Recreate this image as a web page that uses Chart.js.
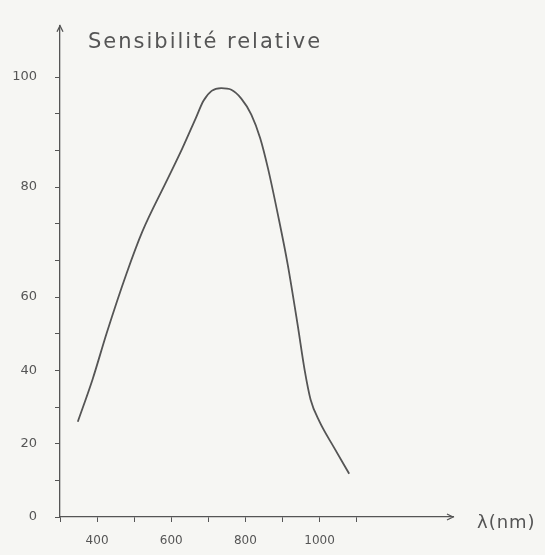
<!DOCTYPE html>
<html>
<head>
    <meta charset="utf-8">
    <title>Sensibilité relative</title>
    <script src="https://cdn.jsdelivr.net/npm/chart.js"></script>
    <style>
        body { margin: 0; background: #f6f6f3; }
        #wrap { width: 545px; height: 555px; }
    </style>
</head>
<body>
    <div id="wrap"><canvas id="sensChart"></canvas></div>

    <script>
        // curve: wavelength (nm) -> relative sensitivity (%)
        var wavelengths = [348, 388, 426, 479, 522, 586, 629, 666, 687, 709, 735, 762, 789, 816, 840, 861, 888, 914, 941, 960, 976, 1000, 1040, 1080];
        var sensitivity = [26.0, 37.6, 50.2, 64.2, 71.9, 80.9, 86.9, 92.5, 95.7, 97.5, 98.0, 97.7, 96.1, 93.2, 88.9, 83.4, 74.9, 66.0, 52.4, 40.0, 32.0, 26.0, 18.8, 11.8];

        var xTicks = [300, 400, 500, 600, 700, 800, 900, 1000, 1100];
        var xTickLabels = ['', '400', '', '600', '', '800', '', '1000', ''];

        // hand drawn y axis: 12 graduations, labels not evenly placed on them
        var yLabels = [0, 20, 40, 60, 80, 100];
        var yLabelGrads = [0, 2, 4, 6, 9, 12];

        function toGrad(v) {
            for (var i = 1; i < yLabels.length; i++) {
                if (v <= yLabels[i]) {
                    var t = (v - yLabels[i - 1]) / (yLabels[i] - yLabels[i - 1]);
                    return yLabelGrads[i - 1] + t * (yLabelGrads[i] - yLabelGrads[i - 1]);
                }
            }
            return yLabelGrads[yLabelGrads.length - 1];
        }

        var ink = '#555555';
        var font = "'DejaVu Sans', sans-serif";

        var extras = {
            id: 'extras',
            afterDraw: function(chart) {
                var ctx = chart.ctx, a = chart.chartArea;
                ctx.save();
                ctx.strokeStyle = ink;
                ctx.fillStyle = ink;
                ctx.lineWidth = 1.3;
                // arrow heads
                ctx.beginPath();
                ctx.moveTo(a.left - 3, a.top + 6); ctx.lineTo(a.left, a.top); ctx.lineTo(a.left + 3, a.top + 6);
                ctx.moveTo(a.right - 6, a.bottom - 3); ctx.lineTo(a.right, a.bottom); ctx.lineTo(a.right - 6, a.bottom + 3);
                ctx.stroke();
                ctx.textBaseline = 'middle';
                ctx.font = '21px ' + font;
                ctx.letterSpacing = '2px';
                ctx.fillText('Sensibilité relative', a.left + 28, a.top + 17);
                ctx.font = '18px ' + font;
                ctx.letterSpacing = '1px';
                ctx.fillText('λ(nm)', a.right + 24, a.bottom + 6);
                ctx.restore();
            }
        };

        new Chart(document.getElementById('sensChart'), {
            type: 'line',
            data: {
                datasets: [{
                    data: wavelengths.map(function(w, i) { return { x: w, y: toGrad(sensitivity[i]) }; }),
                    borderColor: ink,
                    borderWidth: 1.8,
                    pointRadius: 0,
                    cubicInterpolationMode: 'monotone',
                    fill: false
                }]
            },
            options: {
                responsive: true,
                maintainAspectRatio: false,
                animation: false,
                layout: { padding: { top: 18, right: 92 } },
                plugins: { legend: { display: false }, tooltip: { enabled: false } },
                scales: {
                    x: {
                        type: 'linear',
                        min: 300,
                        max: 1360,
                        afterBuildTicks: function(scale) {
                            scale.ticks = xTicks.map(function(v) { return { value: v }; });
                        },
                        afterFit: function(scale) { scale.height = 38; },
                        ticks: {
                            color: ink,
                            font: { family: font, size: 12 },
                            padding: 12,
                            maxRotation: 0,
                            autoSkip: false,
                            callback: function(v) { return xTickLabels[xTicks.indexOf(v)]; }
                        },
                        grid: { drawOnChartArea: false, tickLength: 5, color: ink },
                        border: { color: ink, width: 1.3, dash: [6, 2] }
                    },
                    y: {
                        min: 0,
                        max: 13.4,
                        afterBuildTicks: function(scale) {
                            var t = [];
                            for (var g = 0; g <= 12; g++) t.push({ value: g });
                            scale.ticks = t;
                        },
                        afterFit: function(scale) { scale.width = 60; },
                        ticks: {
                            color: ink,
                            font: { family: font, size: 13 },
                            padding: 18,
                            autoSkip: false,
                            callback: function(v) {
                                var i = yLabelGrads.indexOf(v);
                                return i < 0 ? '' : String(yLabels[i]);
                            }
                        },
                        grid: { drawOnChartArea: false, tickLength: 5, color: ink },
                        border: { color: ink, width: 1.3, dash: [5, 2] }
                    }
                }
            },
            plugins: [extras]
        });
    </script>
</body>
</html>
